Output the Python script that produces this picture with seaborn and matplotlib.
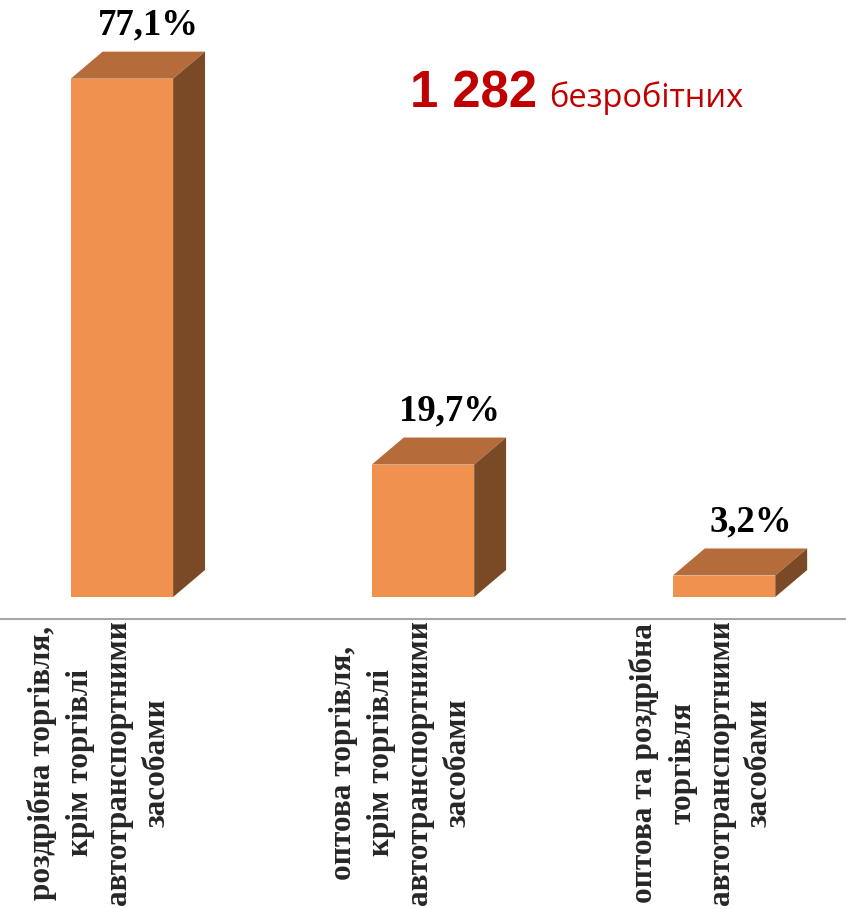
import numpy as np
import matplotlib
matplotlib.use("Agg")
import matplotlib.pyplot as plt
from matplotlib.patches import Polygon
import seaborn as sns

# data
categories = [
    "роздрібна торгівля,\nкрім торгівлі\nавтотранспортними\nзасобами",
    "оптова торгівля,\nкрім торгівлі\nавтотранспортними\nзасобами",
    "оптова та роздрібна\nторгівля\nавтотранспортними\nзасобами",
]
shares = [77.1, 19.7, 3.2]
share_labels = ["77,1%", "19,7%", "3,2%"]
total_count = "1 282"
total_word = "безробітних"

front_c = "#F0914D"
top_c = "#B56B3A"
side_c = "#7A4A26"
red = "#C00000"

sns.set_theme(style="white")
plt.rcParams["font.family"] = ["Liberation Serif", "DejaVu Serif"]

fig = plt.figure(figsize=(8.46, 9.09), dpi=100)
ax = fig.add_axes([0, 290 / 909, 1, 619 / 909])

sns.barplot(x=categories, y=shares, color=front_c, saturation=1, width=0.34,
            edgecolor="none", linewidth=0, ax=ax)

# fake 3d depth
dx, dy = 0.106, 4.02
for p, lab in zip(ax.patches, share_labels):
    x0 = p.get_x()
    x1 = x0 + p.get_width()
    h = p.get_height()
    top = Polygon([(x0, h), (x1, h), (x1 + dx, h + dy), (x0 + dx, h + dy)],
                  closed=True, facecolor=top_c, edgecolor="none")
    side = Polygon([(x1, 0), (x1 + dx, dy), (x1 + dx, h + dy), (x1, h)],
                   closed=True, facecolor=side_c, edgecolor="none")
    ax.add_patch(top)
    ax.add_patch(side)
    ax.annotate(lab, ((x0 + x1) / 2 + 0.088, h + dy), xytext=(0, 12),
                textcoords="offset points", ha="center", va="baseline",
                fontsize=26.5, fontweight="bold", color="black")

ax.set_xlim(-0.405, 2.405)
ax.set_ylim(-3.27, 88.8)
ax.set_yticks([])
ax.set_xticks(np.arange(len(categories)) - 0.075)
ax.set_xticklabels(categories, rotation=90, ha="center", va="top",
                   multialignment="center", fontsize=22.5, fontweight="bold",
                   linespacing=1.42)
ax.tick_params(axis="x", length=0, pad=1)
for s in ["top", "left", "right"]:
    ax.spines[s].set_visible(False)
ax.spines["bottom"].set_color("#a6a6a6")
ax.spines["bottom"].set_linewidth(1.5)

fig.text(410 / 846, 1 - 107 / 909, total_count, color=red, fontsize=36.5,
         fontweight="bold", family=["Liberation Sans", "DejaVu Sans"],
         ha="left", va="baseline")
fig.text(549 / 846, 1 - 107 / 909, total_word, color=red, fontsize=23.5,
         family=["Open Sans", "DejaVu Sans"], ha="left", va="baseline")

fig.savefig("out.png", dpi=100)
